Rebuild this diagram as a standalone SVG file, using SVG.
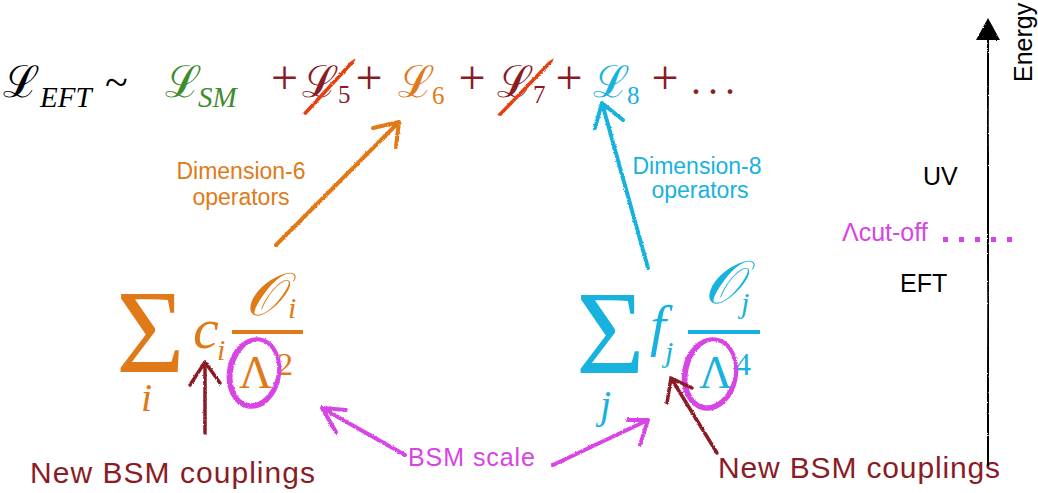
<svg xmlns="http://www.w3.org/2000/svg" width="1038" height="493" viewBox="0 0 1038 493">
<style>
.sc{font-family:"DejaVu Serif",serif;font-size:44px}
.it{font-family:"Liberation Serif",serif;font-style:italic}
.rm{font-family:"Liberation Serif",serif}
.sans{font-family:"Liberation Sans",Arial,sans-serif}
.dred{fill:#8a1c26}
.org{fill:#e07a18}
.blu{fill:#17b2de}
.grn{fill:#3f8b2e}
.mag{fill:#d744e4}
.stk{fill:none;stroke-linecap:round;stroke-linejoin:round}
</style>
<defs>
<filter id="rough" x="-10%" y="-10%" width="120%" height="120%">
<feTurbulence type="fractalNoise" baseFrequency="0.9" numOctaves="2" seed="3" result="n"/>
<feDisplacementMap in="SourceGraphic" in2="n" scale="2.5" xChannelSelector="R" yChannelSelector="G"/>
</filter>
</defs>
<rect width="1038" height="493" fill="#ffffff"/>

<g id="lagrangian">
<text class="sc" x="3" y="97" fill="#000">ℒ</text>
<text class="it" x="40" y="107" font-size="29" fill="#000">EFT</text>
<text class="rm" x="105" y="96" font-size="42" fill="#000">~</text>
<text class="sc grn" x="165" y="97">ℒ</text>
<text class="it grn" x="198" y="107" font-size="29">SM</text>
<g class="rm dred" font-size="48" text-anchor="middle">
<text x="284.5" y="94">+</text>
<text x="369" y="94">+</text>
<text x="472" y="94">+</text>
<text x="569" y="94">+</text>
<text x="665" y="94">+</text>
</g>
<text class="sc dred" x="302" y="97">ℒ</text>
<text class="rm dred" x="338" y="103" font-size="25">5</text>
<path d="M302,114 L350,62 L356,58 L353,64 L306,115 Z" fill="#e4400f" filter="url(#rough)"/>
<text class="sc org" x="398" y="97">ℒ</text>
<text class="rm org" x="432" y="104" font-size="25">6</text>
<text class="sc dred" x="497" y="97">ℒ</text>
<text class="rm dred" x="533" y="103" font-size="25">7</text>
<path d="M497,115 L548,62 L554,58 L551,64 L501,116 Z" fill="#e4400f" filter="url(#rough)"/>
<text class="sc blu" x="593" y="97">ℒ</text>
<text class="rm blu" x="627" y="104" font-size="25">8</text>
<text class="rm dred" x="691" y="94" font-size="40" letter-spacing="7">...</text>
</g>

<g id="sum-dim6">
<text class="rm org" x="116" y="372" font-size="118">Σ</text>
<text class="it org" x="141" y="411" font-size="40">i</text>
<text class="it org" x="193" y="348" font-size="58">c</text>
<text class="it org" x="217" y="360" font-size="30">i</text>
<text class="it org" x="245" y="315" font-size="60">𝒪</text>
<text class="it org" x="288" y="318" font-size="30">i</text>
<rect x="232" y="330" width="71" height="4" fill="#e07a18"/>
<text class="rm org" x="239" y="388" font-size="46">Λ</text>
<text class="rm org" x="277" y="375" font-size="32">2</text>
<g filter="url(#rough)" stroke="#d744e4" class="stk">
<ellipse cx="254" cy="373" rx="25" ry="34" transform="rotate(10 254 373)" stroke-width="4"/>
<ellipse cx="255" cy="372" rx="23" ry="33" transform="rotate(14 255 372)" stroke-width="2.5"/>
</g>
</g>

<g id="sum-dim8">
<text class="rm blu" x="576" y="373" font-size="118">Σ</text>
<text class="it blu" x="600" y="418" font-size="40">j</text>
<text class="it blu" x="650" y="345" font-size="58">f</text>
<text class="it blu" x="665" y="362" font-size="30">j</text>
<text class="it blu" x="704" y="303" font-size="60">𝒪</text>
<text class="it blu" x="741" y="313" font-size="30">j</text>
<rect x="688" y="330" width="72" height="4" fill="#17b2de"/>
<text class="rm blu" x="699" y="388" font-size="46">Λ</text>
<text class="rm blu" x="735" y="375" font-size="32">4</text>
<g filter="url(#rough)" stroke="#d744e4" class="stk">
<ellipse cx="710" cy="374" rx="26" ry="35" transform="rotate(10 710 374)" stroke-width="4"/>
<ellipse cx="711" cy="373" rx="24" ry="34" transform="rotate(14 711 373)" stroke-width="2.5"/>
</g>
</g>

<g id="labels" class="sans">
<text class="org" x="241" y="179" font-size="23" text-anchor="middle">Dimension-6</text>
<text class="org" x="241" y="205" font-size="23" text-anchor="middle">operators</text>
<text class="blu" x="697" y="174" font-size="23" text-anchor="middle">Dimension-8</text>
<text class="blu" x="700" y="198" font-size="23" text-anchor="middle">operators</text>
<text class="mag" x="408" y="466" font-size="25" textLength="127">BSM scale</text>
<text class="dred" x="30" y="483" font-size="30" textLength="285">New BSM couplings</text>
<text class="dred" x="718" y="478" font-size="30" textLength="282">New BSM couplings</text>
</g>

<g id="energy-axis" class="sans">
<path d="M988,465 L988.5,300 L987.5,120 L988,38" class="stk" stroke="#000" stroke-width="2.5" filter="url(#rough)"/>
<polygon points="988,18 976,40 1000,40" fill="#000" filter="url(#rough)"/>
<text x="1032" y="82" font-size="25" fill="#000" transform="rotate(-90 1032 82)">Energy</text>
<text x="923" y="185" font-size="25" fill="#000">UV</text>
<text class="mag" x="842" y="241" font-size="25">Λcut-off</text>
<g class="mag">
<rect x="943" y="237" width="5" height="5"/>
<rect x="959" y="237" width="5" height="5"/>
<rect x="975" y="237" width="5" height="5"/>
<rect x="991" y="237" width="5" height="5"/>
<rect x="1007" y="237" width="5" height="5"/>
</g>
<text x="900" y="292" font-size="25" fill="#000">EFT</text>
</g>

<g id="connectors" class="stk" filter="url(#rough)">
<path d="M276,245 L399,122 M373,128 L399,122 L396,147" stroke="#e07a18" stroke-width="4"/>
<path d="M648,268 L602,103 M595,128 L602,103 L623,120" stroke="#17b2de" stroke-width="4"/>
<path d="M205,433 L205,362 M190,385 L205,362 L220,383" stroke="#8a1c26" stroke-width="3.5"/>
<path d="M717,453 L671,378 M667,403 L671,378 L692,388" stroke="#8a1c26" stroke-width="3.5"/>
<path d="M405,455 L322,408 M346,410 L322,408 L336,432" stroke="#d744e4" stroke-width="4"/>
<path d="M553,465 L648,420 M628,420 L648,420 L640,445" stroke="#d744e4" stroke-width="4"/>
</g>
</svg>
